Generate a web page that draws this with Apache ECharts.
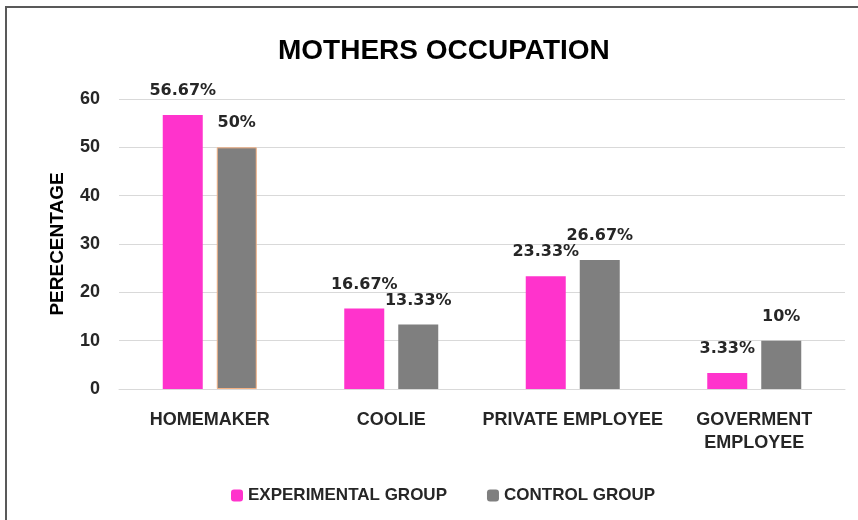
<!DOCTYPE html>
<html>
<head>
<meta charset="utf-8">
<script src="https://cdn.jsdelivr.net/npm/echarts@6/dist/echarts.min.js"></script>
<style>
  html, body { margin: 0; padding: 0; background: #fff; }
  #chart { width: 858px; height: 520px; }
</style>
</head>
<body>
<div id="chart"></div>
<script>
const categories = ['HOMEMAKER', 'COOLIE', 'PRIVATE EMPLOYEE', 'GOVERMENT\nEMPLOYEE'];
const experimental = [56.67, 16.67, 23.33, 3.33];
const control = [50, 13.33, 26.67, 10];
const seriesNames = ['EXPERIMENTAL GROUP', 'CONTROL GROUP'];

const sans = "'Liberation Sans', Arial, sans-serif";
const labelFont = "'DejaVu Sans', sans-serif";

const chart = echarts.init(document.getElementById('chart'));

const dataLabel = {
    show: true,
    position: 'top',
    distance: 16,
    color: '#262626',
    fontFamily: labelFont,
    fontWeight: 'bold',
    fontSize: 16,
    formatter: p => p.value + '%'
};

const option = {
    animation: false,
    backgroundColor: '#fff',
    title: {
        text: 'MOTHERS OCCUPATION',
        left: 273,
        top: 32,
        textStyle: {
            fontFamily: sans,
            fontWeight: 'bold',
            fontSize: 28,
            color: '#000'
        }
    },
    graphic: [{
        type: 'rect',
        shape: {x: 6, y: 7, width: 870, height: 530},
        style: {fill: 'none', stroke: '#595959', lineWidth: 2},
        silent: true
    }],
    legend: {
        data: seriesNames,
        left: 226,
        top: 482,
        itemWidth: 12,
        itemHeight: 12,
        itemGap: 40,
        textStyle: {
            fontFamily: sans,
            fontWeight: 'bold',
            fontSize: 17,
            color: '#262626'
        }
    },
    grid: {left: 119, right: 13, top: 99, bottom: 131},
    xAxis: {
        type: 'category',
        data: categories,
        axisTick: {show: false},
        axisLine: {lineStyle: {color: '#d9d9d9', width: 1}},
        axisLabel: {
            interval: 0,
            margin: 20,
            lineHeight: 23,
            fontFamily: sans,
            fontWeight: 'bold',
            fontSize: 18,
            color: '#262626'
        }
    },
    yAxis: {
        type: 'value',
        min: 0,
        max: 60,
        interval: 10,
        name: 'PERECENTAGE',
        nameLocation: 'middle',
        nameGap: 52,
        nameTextStyle: {
            fontFamily: sans,
            fontWeight: 'bold',
            fontSize: 19,
            color: '#000'
        },
        axisLine: {show: false},
        axisTick: {show: false},
        splitLine: {lineStyle: {color: '#d9d9d9', width: 1}},
        axisLabel: {
            margin: 19,
            fontFamily: sans,
            fontWeight: 'bold',
            fontSize: 18,
            color: '#262626'
        }
    },
    series: [
        {
            name: seriesNames[0],
            type: 'bar',
            data: experimental,
            barWidth: 40,
            barGap: '35%',
            itemStyle: {color: '#ff33cc'},
            label: dataLabel
        },
        {
            name: seriesNames[1],
            type: 'bar',
            data: control.map((v, i) => i === 0
                ? {value: v, itemStyle: {borderColor: '#f4b183', borderWidth: 1}}
                : v),
            barWidth: 40,
            itemStyle: {color: '#7f7f7f'},
            label: dataLabel
        }
    ]
};

chart.setOption(option);
</script>
</body>
</html>
